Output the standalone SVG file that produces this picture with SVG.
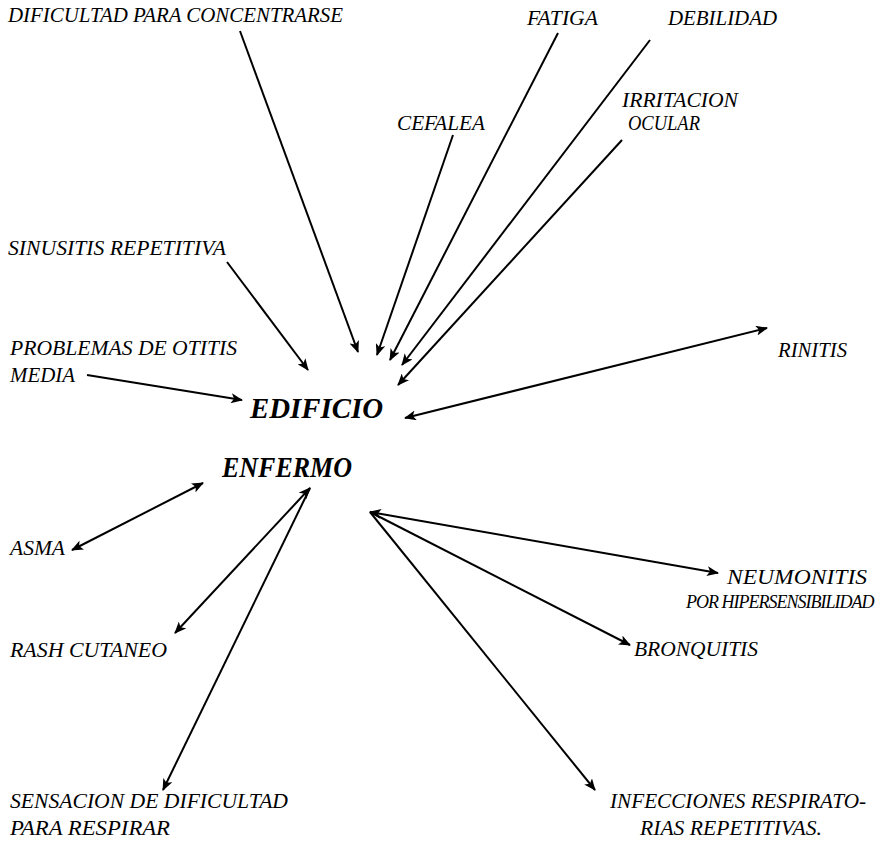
<svg xmlns="http://www.w3.org/2000/svg" width="878" height="845" viewBox="0 0 878 845">
<defs>
<marker id="ah" viewBox="0 0 12 10" refX="11" refY="5" markerWidth="12" markerHeight="10" markerUnits="userSpaceOnUse" orient="auto-start-reverse">
<path d="M0,0 L12,5 L0,10 L3,5 Z" fill="#000"/>
</marker>
</defs>
<style>
text{font-family:"Liberation Serif","Times New Roman",serif;font-style:italic;fill:#000;font-size:20px}
.c{font-size:29px;font-weight:bold}
.l{stroke:#000;stroke-width:2;fill:none}
.s{marker-end:url(#ah)}
.d{marker-start:url(#ah);marker-end:url(#ah)}
</style>
<rect width="878" height="845" fill="#fff"/>
<g id="center"><text class="c" x="250" y="418" textLength="133" lengthAdjust="spacingAndGlyphs">EDIFICIO</text><text class="c" x="222" y="477" textLength="130" lengthAdjust="spacingAndGlyphs">ENFERMO</text></g>
<g id="n-dificultad"><text x="8" y="22" textLength="335" lengthAdjust="spacingAndGlyphs">DIFICULTAD PARA CONCENTRARSE</text></g>
<g id="n-fatiga"><text x="527" y="25" textLength="71" lengthAdjust="spacingAndGlyphs">FATIGA</text></g>
<g id="n-debilidad"><text x="668" y="25" textLength="109" lengthAdjust="spacingAndGlyphs">DEBILIDAD</text></g>
<g id="n-cefalea"><text x="397" y="130" textLength="88" lengthAdjust="spacingAndGlyphs">CEFALEA</text></g>
<g id="n-irritacion"><text x="622" y="107" textLength="116" lengthAdjust="spacingAndGlyphs">IRRITACION</text><text x="628" y="130" textLength="72" lengthAdjust="spacingAndGlyphs">OCULAR</text></g>
<g id="n-sinusitis"><text x="8" y="255" textLength="218" lengthAdjust="spacingAndGlyphs">SINUSITIS REPETITIVA</text></g>
<g id="n-otitis"><text x="10" y="355" textLength="227" lengthAdjust="spacingAndGlyphs">PROBLEMAS DE OTITIS</text><text x="10" y="382" textLength="65" lengthAdjust="spacingAndGlyphs">MEDIA</text></g>
<g id="n-rinitis"><text x="778" y="357" textLength="69" lengthAdjust="spacingAndGlyphs">RINITIS</text></g>
<g id="n-asma"><text x="10" y="555" textLength="55" lengthAdjust="spacingAndGlyphs">ASMA</text></g>
<g id="n-neumonitis"><text x="727" y="584" textLength="140" lengthAdjust="spacingAndGlyphs">NEUMONITIS</text><text x="686" y="608" style="font-size:18px;letter-spacing:-1px">POR HIPERSENSIBILIDAD</text></g>
<g id="n-rash"><text x="10" y="657" textLength="157" lengthAdjust="spacingAndGlyphs">RASH CUTANEO</text></g>
<g id="n-bronquitis"><text x="634" y="656" textLength="124" lengthAdjust="spacingAndGlyphs">BRONQUITIS</text></g>
<g id="n-sensacion"><text x="10" y="808" textLength="278" lengthAdjust="spacingAndGlyphs">SENSACION DE DIFICULTAD</text><text x="10" y="835" textLength="160" lengthAdjust="spacingAndGlyphs">PARA RESPIRAR</text></g>
<g id="n-infecciones"><text x="610" y="808" textLength="256" lengthAdjust="spacingAndGlyphs">INFECCIONES RESPIRATO-</text><text x="640" y="835" textLength="182" lengthAdjust="spacingAndGlyphs">RIAS REPETITIVAS.</text></g>
<g id="connectors">
<line class="l s" x1="240" y1="31" x2="358" y2="352"/>
<line class="l s" x1="453" y1="135" x2="377" y2="355"/>
<line class="l s" x1="558" y1="33" x2="390" y2="360"/>
<line class="l s" x1="650" y1="40" x2="402" y2="365"/>
<line class="l s" x1="622" y1="140" x2="398" y2="385"/>
<line class="l s" x1="227" y1="262" x2="308" y2="370"/>
<line class="l s" x1="87" y1="375" x2="242" y2="400"/>
<line class="l d" x1="405" y1="418" x2="767" y2="328"/>
<line class="l d" x1="203" y1="483" x2="72" y2="550"/>
<line class="l d" x1="310" y1="488" x2="175" y2="633"/>
<line class="l s" x1="310" y1="488" x2="163" y2="790"/>
<line class="l d" x1="370" y1="512" x2="718" y2="573"/>
<line class="l s" x1="370" y1="512" x2="630" y2="645"/>
<line class="l s" x1="370" y1="512" x2="595" y2="790"/>
</g>
</svg>
